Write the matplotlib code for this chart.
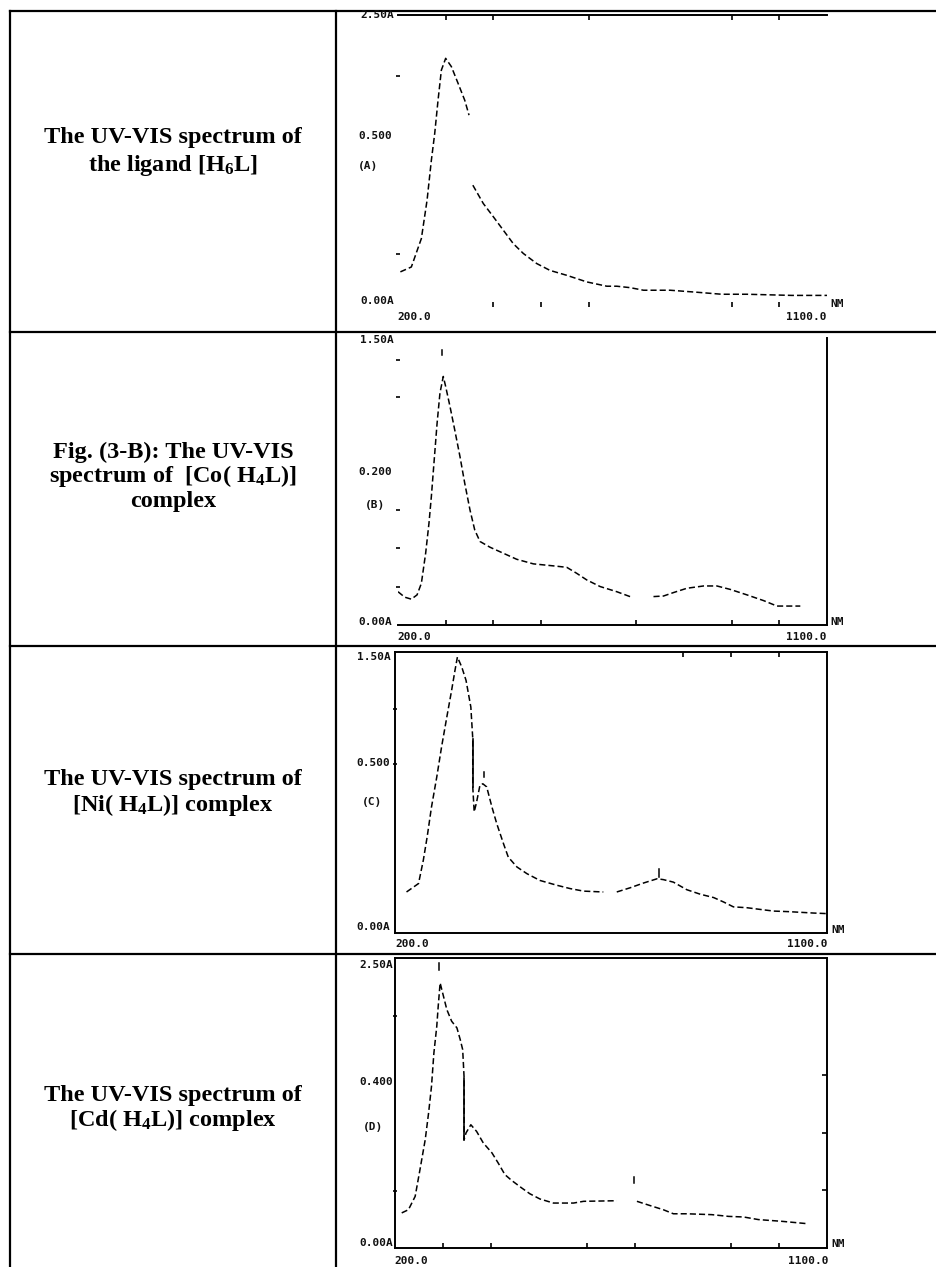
import numpy as np
import matplotlib
matplotlib.use('Agg')
import matplotlib.pyplot as plt
from matplotlib.lines import Line2D

W, H = 937, 1267
nan = np.nan

# wavelength (nm) and absorbance, read as fraction of each trace's full scale
nm_a = [205, 228, 249, 261, 270, 277, 284, 291, 300, 312, 326, 340, 349, nan, 357, 379, 400, 421,
        442, 463, 491, 519, 554, 596, 638, 659, 687, 715, 771, 827, 879, 932, 1026, 1100]
abs_a = [0.105, 0.122, 0.221, 0.355, 0.494, 0.587, 0.703, 0.808, 0.849, 0.820, 0.762, 0.703, 0.651, nan,
         0.407, 0.343, 0.297, 0.250, 0.203, 0.169, 0.134, 0.110, 0.093, 0.070, 0.055, 0.055, 0.050,
         0.041, 0.041, 0.034, 0.027, 0.027, 0.023, 0.023]

nm_b = [200, 214, 228, 240, 249, 258, 265, 270, 276, 282, 288, 295, 300, 309, 319, 330, 340, 351, 361,
        372, 393, 421, 449, 484, 526, 554, 575, 596, 624, 659, 690, nan, 736, 757, 778, 806, 841, 869,
        897, 932, 967, 995, 1044]
abs_b = [0.116, 0.097, 0.090, 0.105, 0.145, 0.250, 0.355, 0.448, 0.576, 0.703, 0.808, 0.866, 0.831,
         0.762, 0.680, 0.587, 0.494, 0.401, 0.331, 0.291, 0.271, 0.250, 0.229, 0.213, 0.206, 0.201,
         0.180, 0.157, 0.134, 0.116, 0.097, nan, 0.099, 0.101, 0.113, 0.128, 0.136, 0.136, 0.124,
         0.105, 0.085, 0.066, 0.066]

nm_c = [224, 249, 259, 267, 276, 287, 297, 308, 318, 325, 330, 339, 348, 358, 362, 362, 365, 370, 377,
        383, 391, 402, 412, 426, 436, 454, 475, 502, 537, 565, 593, 634, nan, 662, 690, 718, 746, 759,
        780, 808, 836, 864, 885, 905, 933, 965, 989, 1020, 1072, 1100]
abs_c = [0.146, 0.176, 0.259, 0.342, 0.448, 0.555, 0.662, 0.769, 0.864, 0.935, 0.982, 0.947, 0.899,
         0.804, 0.692, 0.520, 0.431, 0.466, 0.526, 0.531, 0.520, 0.448, 0.389, 0.318, 0.270, 0.235,
         0.211, 0.187, 0.170, 0.158, 0.149, 0.146, nan, 0.146, 0.161, 0.178, 0.193, 0.190, 0.181,
         0.154, 0.138, 0.126, 0.110, 0.093, 0.090, 0.083, 0.078, 0.076, 0.071, 0.069]

nm_d = [214, 228, 242, 252, 263, 270, 276, 281, 287, 290, 294, 301, 308, 318, 329, 336, 341, 344, 344,
        348, 358, 370, 384, 402, 415, 429, 443, 464, 481, 502, 530, 572, 593, 662, nan, 704, 732, 759,
        780, 808, 860, 895, 926, 957, 1006, 1058]
abs_d = [0.121, 0.132, 0.178, 0.270, 0.374, 0.466, 0.557, 0.672, 0.764, 0.833, 0.914, 0.868, 0.822,
         0.782, 0.759, 0.718, 0.684, 0.586, 0.374, 0.397, 0.425, 0.402, 0.362, 0.328, 0.293, 0.253,
         0.233, 0.207, 0.187, 0.169, 0.155, 0.155, 0.161, 0.163, nan, 0.161, 0.146, 0.132, 0.118,
         0.118, 0.115, 0.109, 0.107, 0.098, 0.092, 0.084]

# sharp solid drops (nm, upper, lower) and short peak marks (nm, lower, upper)
drops = {'C': [(362, 0.692, 0.520)], 'D': [(344, 0.586, 0.374)]}
peak_marks = {'B': [(293, 0.942, 0.959)],
              'C': [(386, 0.555, 0.573), (751, 0.199, 0.229)],
              'D': [(292, 0.960, 0.983), (697, 0.224, 0.245)]}

captions = [
    ["The UV-VIS spectrum of", r"the ligand [$\mathrm{H_6}$L]"],
    ["Fig. (3-B): The UV-VIS", r"spectrum of  [Co( $\mathrm{H_4}$L)]", "complex"],
    ["The UV-VIS spectrum of", r"[Ni( $\mathrm{H_4}$L)] complex"],
    ["The UV-VIS spectrum of", r"[Cd( $\mathrm{H_4}$L)] complex"],
]
top_labels = ['2.50A', '1.50A', '1.50A', '2.50A']
mid_labels = ['0.500', '0.200', '0.500', '0.400']
tags = ['(A)', '(B)', '(C)', '(D)']
x_start, x_end = 200.0, 1100.0

bottom_ticks = [[400, 500, 600, 900, 1000], [300, 400, 500, 700, 900, 1000], [],
                [300, 400, 600, 700, 900, 1000]]
top_ticks = [[300, 400, 600, 900, 1000], [], [800, 900, 1000], []]
left_ticks = [[0.787, 0.166], [0.924, 0.794, 0.401, 0.267, 0.134], [0.798, 0.603], [0.801, 0.195]]
right_ticks = [[], [], [], [0.598, 0.397, 0.201]]

plt.rcParams['font.family'] = ['Liberation Serif', 'DejaVu Serif']
plt.rcParams['mathtext.fontset'] = 'custom'
plt.rcParams['mathtext.rm'] = 'Liberation Serif:bold'
plt.rcParams['mathtext.it'] = 'Liberation Serif:italic:bold'
plt.rcParams['mathtext.bf'] = 'Liberation Serif:bold'


def fx(x):
    return x / W


def fy(y):
    return 1 - y / H


fig = plt.figure(figsize=(W / 100, H / 100), dpi=100)

# table grid
lw_tab = 1.6
for x in [10, 336]:
    fig.add_artist(Line2D([fx(x), fx(x)], [fy(11), fy(H)], color='black', lw=lw_tab))
for y in [11, 332, 646, 954]:
    fig.add_artist(Line2D([fx(10), fx(W)], [fy(y), fy(y)], color='black', lw=lw_tab))

# captions in left column
caption_y = [[138, 165], [452, 476, 501], [780, 805], [1095, 1120]]
for lines, ys in zip(captions, caption_y):
    for txt, y in zip(lines, ys):
        fig.text(fx(173), fy(y), txt, ha='center', va='center', fontsize=17.5, fontweight='bold')

# layout of each spectrum panel (pixels): left, top, right, bottom, visible spines
panels = [
    dict(box=(398, 15, 827, 302), spines=['top']),
    dict(box=(398, 338, 827, 625), spines=['bottom', 'right']),
    dict(box=(395, 652, 827, 933), spines=['top', 'bottom', 'left', 'right']),
    dict(box=(395, 958, 827, 1248), spines=['top', 'bottom', 'left', 'right']),
]
# label anchor positions (pixels)
label_pos = [
    dict(top=(394, 15), mid=(392, 136), tag=(358, 166), zero=(394, 301), x0=(397, 317), x1=(827, 317), nm=(830, 304)),
    dict(top=(394, 340), mid=(392, 472), tag=(365, 505), zero=(392, 622), x0=(397, 637), x1=(827, 637), nm=(830, 622)),
    dict(top=(391, 657), mid=(390, 763), tag=(362, 802), zero=(390, 927), x0=(395, 944), x1=(828, 944), nm=(831, 930)),
    dict(top=(393, 965), mid=(393, 1082), tag=(363, 1127), zero=(393, 1243), x0=(394, 1261), x1=(829, 1261), nm=(831, 1244)),
]

series = [(nm_a, abs_a), (nm_b, abs_b), (nm_c, abs_c), (nm_d, abs_d)]
keys = ['A', 'B', 'C', 'D']
lab_font = dict(family='DejaVu Sans Mono', fontweight='bold', fontsize=8, color='#111111')

for i, (p, lp) in enumerate(zip(panels, label_pos)):
    l, t, r, b = p['box']
    ax = fig.add_axes([fx(l), fy(b), (r - l) / W, (b - t) / H])
    ax.set_xlim(x_start, x_end)
    ax.set_ylim(0, 1)
    ax.patch.set_alpha(0)
    for s in ['top', 'bottom', 'left', 'right']:
        ax.spines[s].set_visible(s in p['spines'])
        ax.spines[s].set_linewidth(1.4)

    nm, ab = series[i]
    ax.plot(np.array(nm, dtype=float), np.array(ab, dtype=float), color='black', lw=1.1,
            linestyle=(0, (4, 2)))
    k = keys[i]
    for xd, y1, y2 in drops.get(k, []):
        ax.plot([xd, xd], [y1, y2], color='black', lw=1.2)
    for xm, y1, y2 in peak_marks.get(k, []):
        ax.plot([xm, xm], [y1, y2], color='black', lw=1.1)

    # ticks
    ax.set_xticks(bottom_ticks[i], labels=[])
    ax.tick_params(axis='x', bottom=bool(bottom_ticks[i]), direction='in' if 'bottom' in p['spines'] else 'out',
                   length=3.5, width=1.2)
    ax.set_yticks(left_ticks[i], labels=[])
    ax.tick_params(axis='y', left=True, direction='inout', length=3, width=1.2)
    if top_ticks[i]:
        sec = ax.secondary_xaxis('top')
        sec.set_xticks(top_ticks[i], labels=[])
        sec.tick_params(direction='in', length=3.5, width=1.2)
        sec.spines['top'].set_visible(False)
    if right_ticks[i]:
        secy = ax.secondary_yaxis('right')
        secy.set_yticks(right_ticks[i], labels=[])
        secy.tick_params(direction='in', length=3.5, width=1.2)
        secy.spines['right'].set_visible(False)

    # instrument labels
    fig.text(fx(lp['top'][0]), fy(lp['top'][1]), top_labels[i], ha='right', va='center', **lab_font)
    fig.text(fx(lp['mid'][0]), fy(lp['mid'][1]), mid_labels[i], ha='right', va='center', **lab_font)
    fig.text(fx(lp['tag'][0]), fy(lp['tag'][1]), tags[i], ha='left', va='center', **lab_font)
    fig.text(fx(lp['zero'][0]), fy(lp['zero'][1]), '0.00A', ha='right', va='center', **lab_font)
    fig.text(fx(lp['x0'][0]), fy(lp['x0'][1]), '%.1f' % x_start, ha='left', va='center', **lab_font)
    fig.text(fx(lp['x1'][0]), fy(lp['x1'][1]), '%.1f' % x_end, ha='right', va='center', **lab_font)
    fig.text(fx(lp['nm'][0]), fy(lp['nm'][1]), 'NM', ha='left', va='center', **lab_font)

fig.savefig('out.png', dpi=100)
